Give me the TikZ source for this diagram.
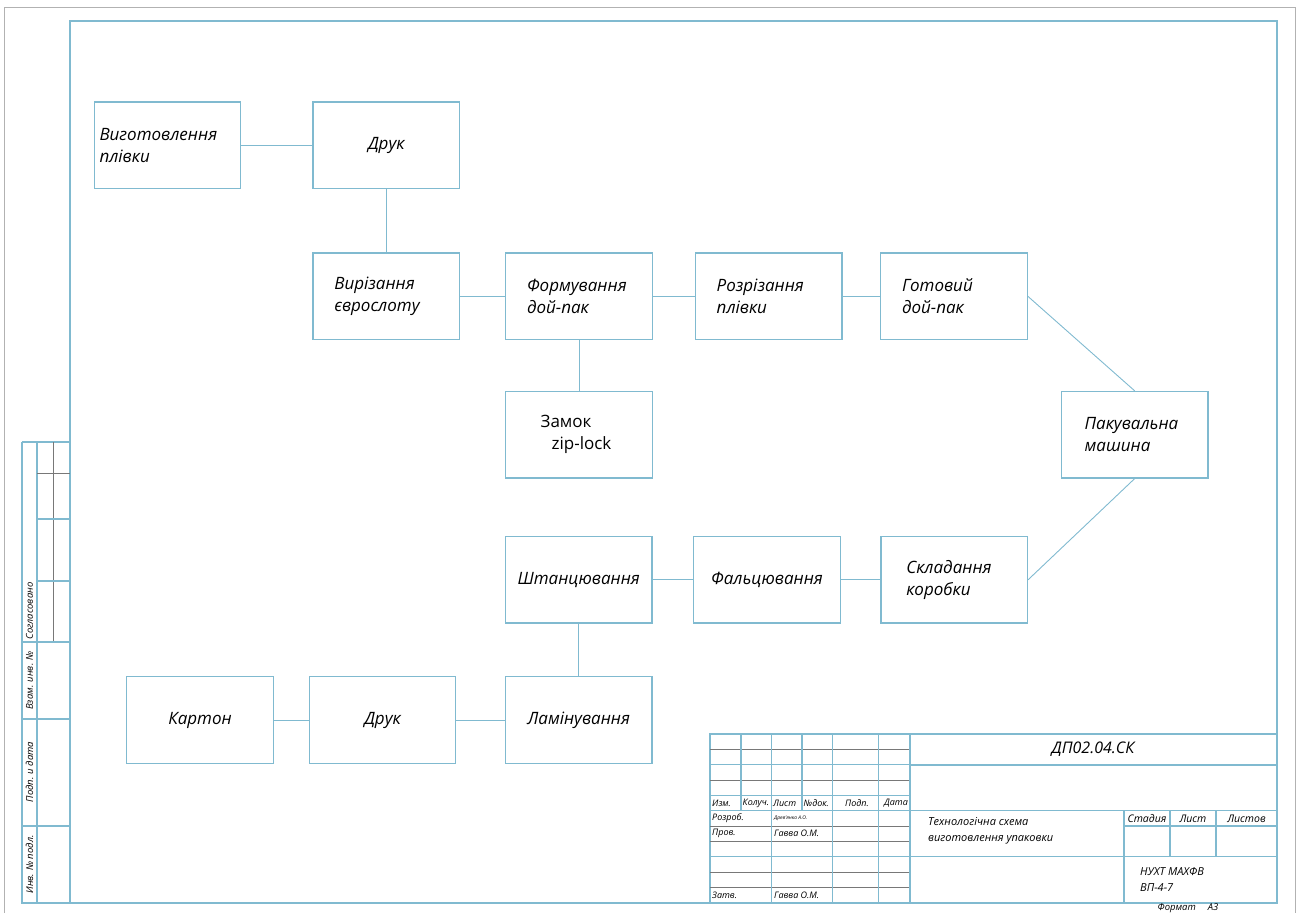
\documentclass[tikz,border=0pt]{standalone}
\usepackage{fontspec}
\setmainfont{Open Sans}
\definecolor{lineblue}{RGB}{128,186,208}
\definecolor{thingray}{RGB}{120,120,120}

\begin{document}
\begin{tikzpicture}[x=1pt,y=-1pt,
	proc/.style={draw=lineblue, line width=1.2pt, minimum width=146.5pt, minimum height=86.5pt, inner sep=0pt, align=left, font=\fontsize{17}{22}\selectfont\itshape},
	proctwo/.style={proc, text width=104pt},
	link/.style={lineblue, line width=0.9pt},
	frm/.style={lineblue, line width=1.3pt},
	thn/.style={thingray, line width=0.6pt},
	lbl/.style={inner sep=0pt, font=\fontsize{9}{11}\selectfont\itshape}]
			\useasboundingbox (0,0) rectangle (1298,913);
			\draw[gray!60, line width=1pt] (4,913) -- (4,7) -- (1295,7) -- (1295,913);
			\draw[frm] (70,21) rectangle (1277,903);
% 			\node at (650,2) {};

			% film
			\node[proctwo, text width=136pt] (vyg) at (167.5,145.2) {Виготовлення\\плівки};
			\node[proc] (druk1) at (386.3,145.2) {Друк};
			\node[proctwo] (vyriz) at (386.3,296.3) {Вирізання\\єврослоту};
			\node[proctwo] (form) at (579,296.3) {Формування\\дой-пак};
			\node[proctwo] (rozriz) at (768.7,296.3) {Розрізання\\плівки};
			\node[proctwo] (gotov) at (954,296.3) {Готовий\\дой-пак};
			\node[proc, font=\fontsize{17}{22}\selectfont\upshape] (zamok) at (579,434.7) {Замок\\\hspace*{11pt}zip-lock\hspace*{6pt}};
			\node[proctwo, text width=100pt] (pak) at (1134.7,434.7) {Пакувальна\\машина};
			% carton
			\node[proctwo, text width=96pt] (sklad) at (954.3,579.7) {Складання\\коробки};
			\node[proc] (falc) at (767,579.7) {Фальцювання};
			\node[proc] (shtanc) at (578.7,579.7) {Штанцювання};
			\node[proc] (lamin) at (578.7,720) {Ламінування};
			\node[proc] (druk2) at (382.5,720) {Друк};
			\node[proc] (karton) at (200,720) {Картон};

			\draw[link] (vyg.east) -- (druk1.west);
			\draw[link] (druk1.south) -- (vyriz.north);
			\draw[link] (vyriz.east) -- (form.west);
			\draw[link] (form.east) -- (rozriz.west);
			\draw[link] (rozriz.east) -- (gotov.west);
			\draw[link] (form.south) -- (zamok.north);
			\draw[link] (gotov.east) -- (pak.north);
			\draw[link] (pak.south) -- (sklad.east);
			\draw[link] (sklad.west) -- (falc.east);
			\draw[link] (falc.west) -- (shtanc.east);
			\draw[link] (shtanc.south) -- (lamin.north);
			\draw[link] (lamin.west) -- (druk2.east);
			\draw[link] (druk2.west) -- (karton.east);

			% side strip
			\draw[frm] (22,442) -- (70,442);
			\draw[frm] (22,442) -- (22,903) -- (70,903);
			\draw[frm] (37,442) -- (37,903);
			\draw[thn] (53,442) -- (53,642);
			\draw[thn] (37,473) -- (70,473);
			\foreach \k in {519,581}
			\draw[frm] (37,\k) -- (70,\k);
			\foreach \k in {642,719,826}
			\draw[frm] (22,\k) -- (70,\k);
			\begin{scope}[lbl, font=\fontsize{9.5}{11}\selectfont\itshape]
			\node[rotate=90] (sogl) at (29.5,611) {Согласовано};
			\node[rotate=90] (vzam) at (29.5,680.5) {Взам. инв. №};
			\node[rotate=90] (podp) at (29.5,772) {Подп. и дата};
			\node[rotate=90] (inv) at (29.5,864.5) {Инв. № подл.};
			\end{scope}

			% title block
			\draw[frm] (710,734) rectangle (1277,903);
			\foreach \k in {1,3,6,7,9,10}
			\draw[thn] (710,{734+\k*15.33}) -- (910,{734+\k*15.33});
			\foreach \k in {2,4,5,8}
			\draw[frm] (710,{734+\k*15.33}) -- (910,{734+\k*15.33});
			\foreach \k in {765,810.7,856.7}
			\draw[frm] (910,\k) -- (1277,\k);
			\foreach \x in {741,802}
			\draw[frm] (\x,734) -- (\x,810.7);
			\foreach \x in {771.3,832.6,878.6,910}
			\draw[frm] (\x,734) -- (\x,903);
			\draw[frm] (1124,810.7) -- (1124,903);
			\draw[frm] (1124,826) -- (1277,826);
			\foreach \x in {1170,1216}
			\draw[frm] (\x,810.7) -- (\x,856.7);

			\begin{scope}[lbl, anchor=west]
			\node (izm) at (712,803) {Изм.};
			\node (koluch) at (742.5,803) {Колуч.};
			\node (lyst) at (773,803) {Лист};
			\node (ndok) at (803.5,803) {№док.};
			\node (pidp) at (845,803) {Подп.};
			\node (data) at (884,803) {Дата};
			\node (rozrob) at (712,818.3) {Розроб.};
			\node[font=\fontsize{5}{6}\selectfont\itshape] (rozrobn) at (774,818.3) {Древ'янко А.О.};
			\node (prov) at (712,833.7) {Пров.};
			\node (provn) at (774,833.7) {Гавва О.М.};
			\node (zatv) at (712,895) {Затв.};
			\node (zatvn) at (774,895) {Гавва О.М.};
			\node[align=left, font=\fontsize{11}{16}\selectfont\itshape] (naz) at (928,831) {Технологічна схема\\виготовлення упаковки};
			\node[align=left, font=\fontsize{11}{16}\selectfont\itshape] (org) at (1140,880) {НУХТ МАХФВ\\ВП-4-7};
			\end{scope}
			\node[lbl, font=\fontsize{16}{18}\selectfont\itshape] (shyfr) at (1093,749.5) {ДП02.04.СК};
			\begin{scope}[lbl, font=\fontsize{10.5}{12}\selectfont\itshape]
			\node (stad) at (1147,818.3) {Стадия};
			\node (lyst2) at (1193,818.3) {Лист};
			\node (lystiv) at (1246.5,818.3) {Листов};
			\end{scope}
			\node[lbl, anchor=south, font=\fontsize{9.5}{11}\selectfont\itshape] (format) at (1188,912.5) {Формат\hspace{12pt}А3};
\end{tikzpicture}
\end{document}
